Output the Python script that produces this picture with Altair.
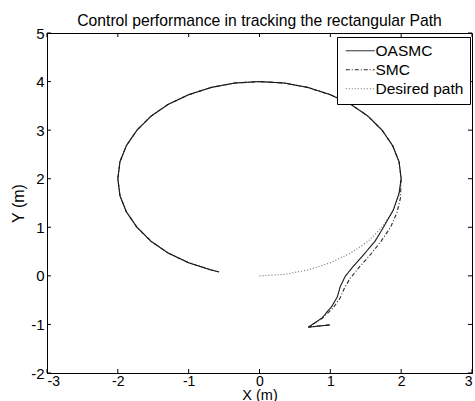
import altair as alt
import pandas as pd

# Desired circular path, radius 2 around (0, 2)
circle_x = [0.00, 0.35, 0.68, 1.00, 1.29, 1.53, 1.73, 1.88, 1.97, 2.00,
            1.97, 1.88, 1.73, 1.53, 1.29, 1.00, 0.68, 0.35, 0.00,
            -0.35, -0.68, -1.00, -1.29, -1.53, -1.73, -1.88, -1.97, -2.00,
            -1.97, -1.88, -1.73, -1.53, -1.29, -1.00, -0.68, -0.57]
circle_y = [0.00, 0.03, 0.12, 0.27, 0.47, 0.71, 1.00, 1.32, 1.65, 2.00,
            2.35, 2.68, 3.00, 3.29, 3.53, 3.73, 3.88, 3.97, 4.00,
            3.97, 3.88, 3.73, 3.53, 3.29, 3.00, 2.68, 2.35, 2.00,
            1.65, 1.32, 1.00, 0.71, 0.47, 0.27, 0.12, 0.08]

# OASMC approach before joining the circle
oasmc_x = [0.99, 0.69, 0.88, 1.02, 1.10, 1.14, 1.21, 1.32, 1.49, 1.63, 1.75, 1.89, 1.97, 2.00]
oasmc_y = [-1.01, -1.056, -0.87, -0.63, -0.43, -0.22, -0.01, 0.19, 0.47, 0.71, 1.00, 1.36, 1.70, 2.00]

# SMC approach before joining the circle
smc_x = [0.99, 0.69, 0.88, 1.04, 1.14, 1.20, 1.28, 1.42, 1.58, 1.72, 1.85, 1.94, 1.99, 2.00]
smc_y = [-1.01, -1.056, -0.88, -0.66, -0.45, -0.25, -0.05, 0.20, 0.46, 0.72, 1.00, 1.30, 1.60, 2.00]

series_names = ["OASMC", "SMC", "Desired path"]
x_ticks = [-3, -2, -1, 0, 1, 2, 3]
y_ticks = [-2, -1, 0, 1, 2, 3, 4, 5]

rows = []
for i, (x, y) in enumerate(zip(circle_x, circle_y)):
    rows.append({"series": "Desired path", "i": i, "x": x, "y": y})
tail_x = circle_x[10:]
tail_y = circle_y[10:]
for name, ax, ay in [("OASMC", oasmc_x, oasmc_y), ("SMC", smc_x, smc_y)]:
    xs = ax + tail_x
    ys = ay + tail_y
    for i, (x, y) in enumerate(zip(xs, ys)):
        rows.append({"series": name, "i": i, "x": x, "y": y})
df = pd.DataFrame(rows)

FONT = "Liberation Sans"
LBL = "toString(datum.value)"
xscale = alt.Scale(domain=[-3, 3], nice=False, zero=False)
yscale = alt.Scale(domain=[-2, 5], nice=False, zero=False)
xaxis = alt.Axis(title="X (m)", values=x_ticks, ticks=False, labelPadding=1,
                 titlePadding=0, labelExpr=LBL, grid=False, labelFontSize=14,
                 titleFontSize=14.5)
yaxis = alt.Axis(title="Y (m)", values=y_ticks, ticks=False, labelPadding=3,
                 titlePadding=4, labelExpr=LBL, grid=False)

legend = alt.Legend(title=None, orient="none", legendX=290, legendY=4,
                    strokeColor="black", fillColor="white", padding=6,
                    symbolType="M-2.9,0H2.9", symbolSize=100, symbolStrokeWidth=1,
                    symbolOffset=9.5, labelOffset=7.5,
                    labelFontSize=15.5, labelFont=FONT,
                    labelColor="black", rowPadding=2, offset=0)

color = alt.Color("series:N",
                  scale=alt.Scale(domain=series_names, range=["#1a1a1a", "#2a2a2a", "#6a6a6a"]),
                  legend=legend)
dash = alt.StrokeDash("series:N",
                      scale=alt.Scale(domain=series_names, range=[[1, 0], [4, 2, 1, 2], [1, 2]]),
                      legend=legend)

base = alt.Chart(df)

def line_for(name):
    return base.transform_filter(alt.datum.series == name).mark_line(strokeWidth=1.1, clip=True).encode(
        x=alt.X("x:Q", scale=xscale, axis=xaxis),
        y=alt.Y("y:Q", scale=yscale, axis=yaxis),
        color=color,
        strokeDash=dash,
        order="i:Q",
    )

lines = [line_for("Desired path"), line_for("SMC"), line_for("OASMC")]

xt = pd.DataFrame({"x": x_ticks})
yt = pd.DataFrame({"y": y_ticks})
tick_style = dict(color="black", strokeWidth=1)
xb = alt.Chart(xt).mark_rule(**tick_style).encode(
    x=alt.X("x:Q", scale=xscale, axis=xaxis), y=alt.value(340), y2=alt.value(336))
xtop = alt.Chart(xt).mark_rule(**tick_style).encode(
    x=alt.X("x:Q", scale=xscale, axis=xaxis), y=alt.value(0), y2=alt.value(4))
yl = alt.Chart(yt).mark_rule(**tick_style).encode(
    y=alt.Y("y:Q", scale=yscale, axis=yaxis), x=alt.value(0), x2=alt.value(4))
yr = alt.Chart(yt).mark_rule(**tick_style).encode(
    y=alt.Y("y:Q", scale=yscale, axis=yaxis), x=alt.value(425), x2=alt.value(421))

chart = alt.layer(*lines, xb, xtop, yl, yr).properties(
    width=425, height=340,
    title=alt.TitleParams("Control performance in tracking the rectangular Path",
                          font=FONT, fontSize=15.7, fontWeight="normal",
                          color="black", offset=-4),
    autosize=alt.AutoSizeParams(type="none"),
    padding={"left": 47, "top": 33, "right": 3, "bottom": 28},
    background="white",
).configure_view(stroke="black", strokeWidth=1).configure_axis(
    domainColor="black", labelColor="black", titleColor="black",
    labelFont=FONT, titleFont=FONT,
    labelFontSize=15, titleFontSize=16, titleFontWeight="normal",
)

chart.save("out.html", embed_options={"renderer": "svg", "actions": False})
